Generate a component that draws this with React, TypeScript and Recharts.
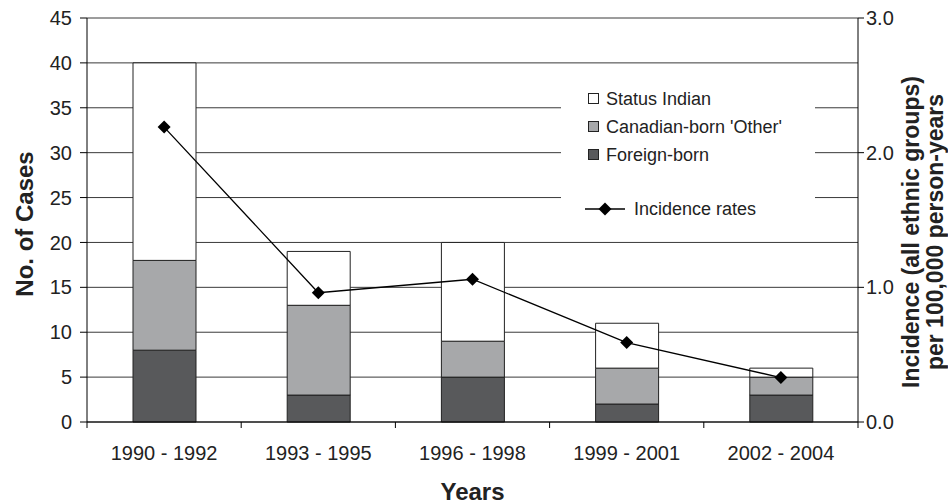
import { Bar, CartesianGrid, ComposedChart, Label, Legend, Line, XAxis, YAxis } from 'recharts';

const categories = ['1990 - 1992', '1993 - 1995', '1996 - 1998', '1999 - 2001', '2002 - 2004'];
const foreignBorn = [8, 3, 5, 2, 3];
const canadianOther = [10, 10, 4, 4, 2];
const statusIndian = [22, 6, 11, 5, 1];
const incidence = [2.19, 0.96, 1.06, 0.59, 0.33];

const caseTicks = [0, 5, 10, 15, 20, 25, 30, 35, 40, 45];
const rateTicks = [0, 1, 2, 3];

const data = categories.map((name, i) => ({
  name,
  foreign: foreignBorn[i],
  canadian: canadianOther[i],
  status: statusIndian[i],
  rate: incidence[i],
}));

const FONT = '"Liberation Sans", Arial, sans-serif';
const W = 948;
const H = 504;
const PLOT_LEFT = 87;
const PLOT_RIGHT = 858;
const BAND = (PLOT_RIGHT - PLOT_LEFT) / categories.length;

const XTick = (props: any) => {
  const { x, y, payload, index } = props;
  return (
    <g>
      <line x1={x - BAND / 2} x2={x - BAND / 2} y1={y} y2={y + 6} stroke="#000" />
      {index === categories.length - 1 && (
        <line x1={x + BAND / 2} x2={x + BAND / 2} y1={y} y2={y + 6} stroke="#000" />
      )}
      <text x={x} y={y + 38} textAnchor="middle" fontSize={20} fill="#222" fontFamily={FONT}>
        {payload.value}
      </text>
    </g>
  );
};

const Diamond = (props: any) => {
  const { cx, cy } = props;
  if (cx == null || cy == null) return null;
  const s = 6.5;
  return <polygon points={`${cx},${cy - s} ${cx + s},${cy} ${cx},${cy + s} ${cx - s},${cy}`} fill="#000" />;
};

const LegendBox = () => {
  const sq = (fill: string, top: number) => (
    <div style={{ position: 'absolute', left: 27, top: top - 6, width: 11, height: 11, background: fill, border: '1px solid #222', boxSizing: 'border-box' }} />
  );
  const txt = (label: string, left: number, top: number) => (
    <div style={{ position: 'absolute', left, top: top - 11, fontSize: 18, lineHeight: '22px', color: '#222', whiteSpace: 'nowrap' }}>{label}</div>
  );
  return (
    <div style={{ position: 'relative', width: '100%', height: '100%', fontFamily: FONT }}>
      {sq('#ffffff', 24)}
      {txt('Status Indian', 45, 24)}
      {sq('#a7a8aa', 52)}
      {txt("Canadian-born 'Other'", 45, 52)}
      {sq('#58595b', 80)}
      {txt('Foreign-born', 45, 80)}
      <svg style={{ position: 'absolute', left: 0, top: 124 }} width={70} height={20}>
        <line x1={24} x2={64} y1={10} y2={10} stroke="#000" strokeWidth={1.3} />
        <polygon points="44,3.5 50.5,10 44,16.5 37.5,10" fill="#000" />
      </svg>
      {txt('Incidence rates', 73, 134)}
    </div>
  );
};

export default function App() {
  return (
    <div style={{ width: W, height: H, background: '#fff' }}>
      <style>{'body{margin:0}'}</style>
      <ComposedChart width={W} height={H} data={data} margin={{ top: 18, right: 0, bottom: 0, left: 0 }} barSize={63}>
        <CartesianGrid vertical={false} yAxisId="l" stroke="#3a3a3a" />
        <XAxis
          dataKey="name"
          height={82}
          tickSize={0}
          tickMargin={0}
          tick={<XTick />}
          axisLine={{ stroke: '#000' }}
          interval={0}
        >
          <Label
            content={() => (
              <text x={(PLOT_LEFT + PLOT_RIGHT) / 2} y={500} textAnchor="middle" fontSize={24} fontWeight="bold" fill="#222" fontFamily={FONT}>
                Years
              </text>
            )}
          />
        </XAxis>
        <YAxis
          yAxisId="l"
          width={87}
          domain={[0, 45]}
          ticks={caseTicks}
          interval={0}
          tickSize={7}
          tickMargin={8}
          tickLine={{ stroke: '#000' }}
          axisLine={{ stroke: '#000' }}
          tick={{ fontSize: 20, fill: '#222', fontFamily: FONT }}
        >
          <Label
            content={() => (
              <text x={33} y={224} transform="rotate(-90 33 224)" textAnchor="middle" fontSize={24} fontWeight="bold" fill="#222" fontFamily={FONT}>
                No. of Cases
              </text>
            )}
          />
        </YAxis>
        <YAxis
          yAxisId="r"
          orientation="right"
          width={90}
          domain={[0, 3]}
          ticks={rateTicks}
          interval={0}
          tickSize={6}
          tickMargin={2}
          tickFormatter={(v: number) => v.toFixed(1)}
          tickLine={{ stroke: '#000' }}
          axisLine={{ stroke: '#000' }}
          tick={{ fontSize: 20, fill: '#222', fontFamily: FONT }}
        >
          <Label
            content={() => (
              <text transform="rotate(-90 0 0)" fontSize={23} fontWeight="bold" fill="#222" fontFamily={FONT} textAnchor="middle">
                <tspan x={-232} y={919}>Incidence (all ethnic groups)</tspan>
                <tspan x={-232} y={943}>per 100,000 person-years</tspan>
              </text>
            )}
          />
        </YAxis>
        <Legend
          layout="vertical"
          align="center"
          verticalAlign="middle"
          content={<LegendBox />}
          wrapperStyle={{ left: 561, top: 75, width: 254, height: 155, background: '#fff' }}
        />
        <Bar yAxisId="l" dataKey="foreign" stackId="a" fill="#58595b" stroke="#222" strokeWidth={1} isAnimationActive={false} />
        <Bar yAxisId="l" dataKey="canadian" stackId="a" fill="#a7a8aa" stroke="#222" strokeWidth={1} isAnimationActive={false} />
        <Bar yAxisId="l" dataKey="status" stackId="a" fill="#ffffff" stroke="#222" strokeWidth={1} isAnimationActive={false} />
        <Line yAxisId="r" dataKey="rate" stroke="#000" strokeWidth={1.3} dot={<Diamond />} activeDot={false} isAnimationActive={false} />
      </ComposedChart>
    </div>
  );
}
